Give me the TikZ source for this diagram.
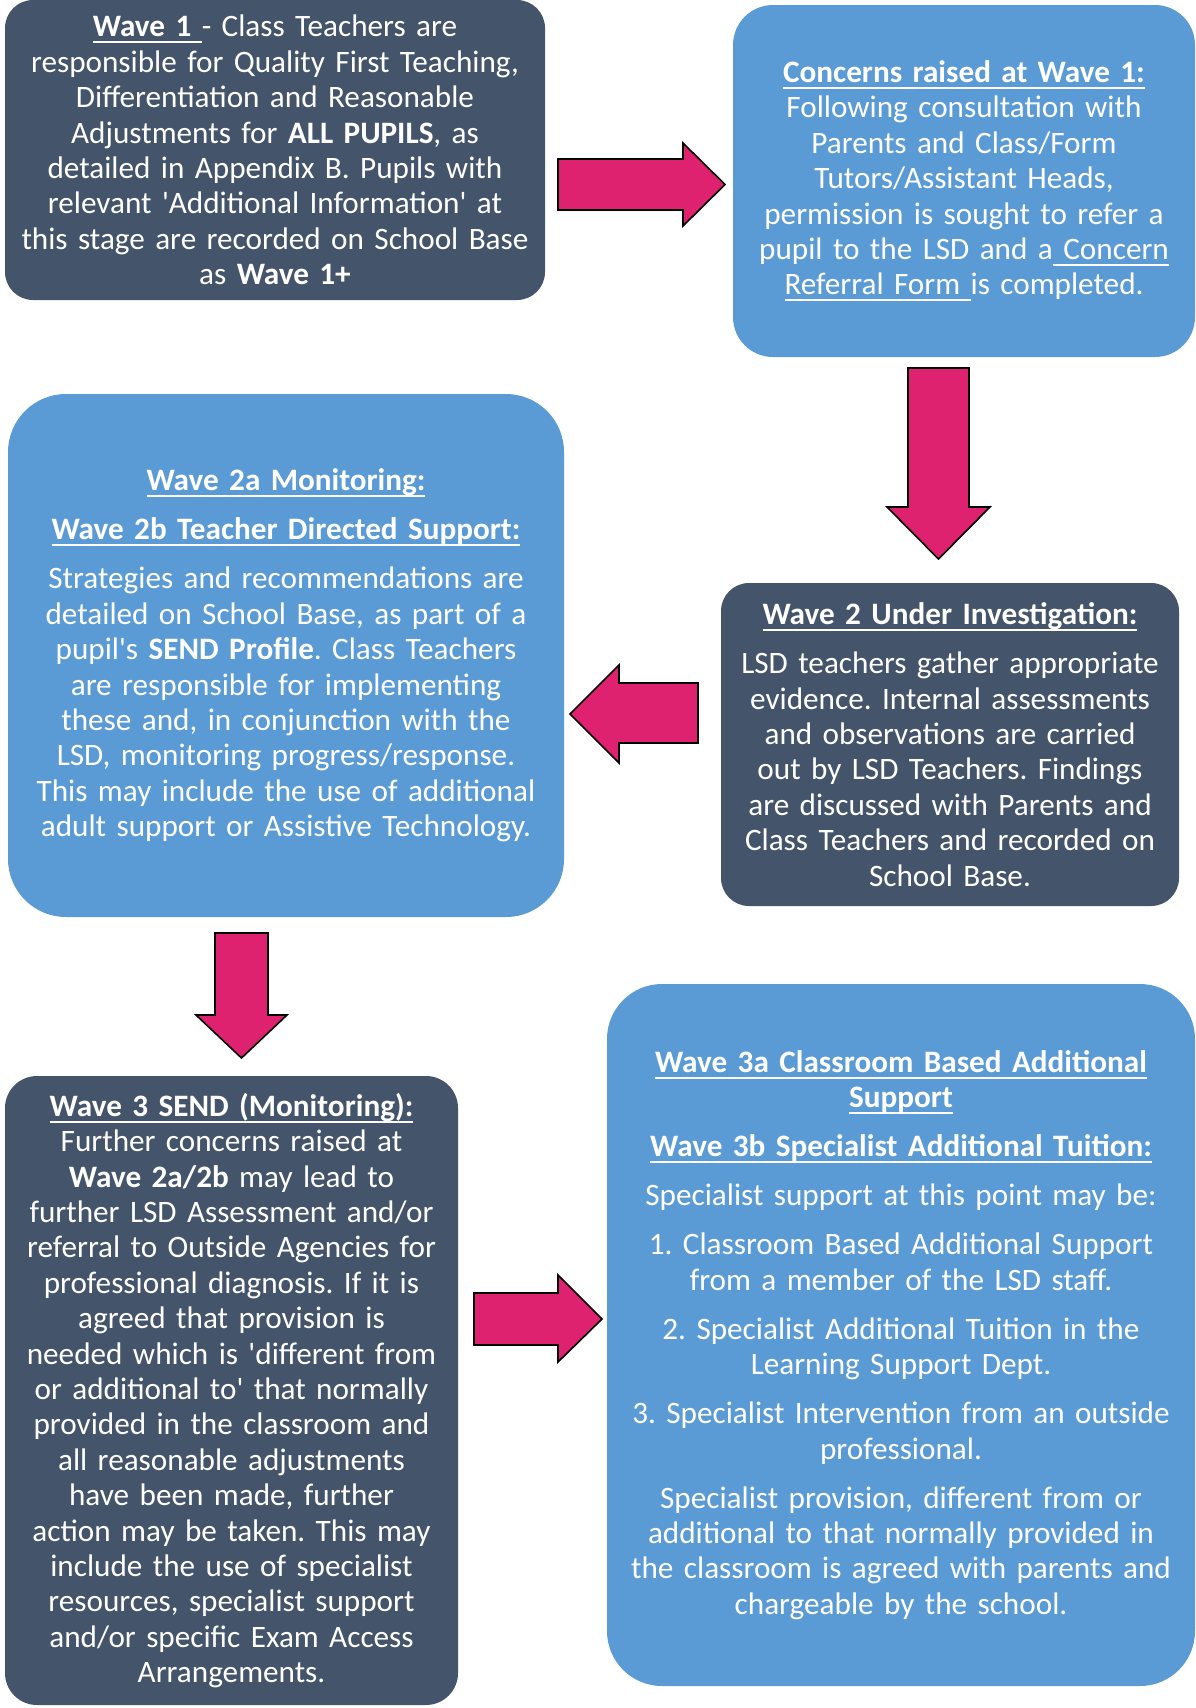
\documentclass[tikz,border=0pt]{standalone}
\usepackage{fontspec}
\setmainfont{Carlito}
\frenchspacing
\definecolor{darkfill}{HTML}{44546A}
\definecolor{lightfill}{HTML}{5B9BD5}
\definecolor{arrowfill}{HTML}{DF2270}
\newcommand\myul[1]{\leavevmode{\setbox0\hbox{#1}\rlap{\rule[-6.5pt]{\wd0}{2pt}}\box0}}
\newcommand\qq{\textquotesingle}
\tikzset{
  boxbase/.style={text=white, align=center, inner sep=0pt, draw=none,
    font=\fontsize{31.2}{35.4}\selectfont\frenchspacing},
  darkbox/.style={boxbase, fill=darkfill, rounded corners=#1},
  lightbox/.style={boxbase, fill=lightfill, rounded corners=#1},
  blockarrow/.style={fill=arrowfill, draw=black, line width=1.6pt, line join=miter}
}
\begin{document}
\begin{tikzpicture}[x=1pt,y=-1pt]
\useasboundingbox[fill=white] (0,0) rectangle (1195,1708);

\node[darkbox=28pt, minimum width=540pt, minimum height=300pt, text width=536pt] (w1) at (275,150) {%
\myul{\textbf{Wave 1}\ }- Class Teachers are\\
responsible for Quality First Teaching,\\
Differentiation and Reasonable\\
Adjustments for \textbf{ALL PUPILS}, as\\
detailed in Appendix B. Pupils with\\
relevant \qq Additional Information\qq\ at\\
this stage are recorded on School Base\\
as \textbf{Wave 1+}};

\node[lightbox=40pt, minimum width=462pt, minimum height=352pt, text width=458pt] (c1) at (964,181) {%
\myul{\textbf{Concerns raised at Wave 1:}}\\
Following consultation with\\
Parents and Class/Form\\
Tutors/Assistant Heads,\\
permission is sought to refer a\\
pupil to the LSD and a\myul{\ Concern}\\
\myul{Referral Form\ }is completed.};

\node[darkbox=28pt, minimum width=458pt, minimum height=323pt, text width=454pt] (w2) at (950,744.5) {%
\myul{\textbf{Wave 2 Under Investigation:}}\\[13.6pt]
LSD teachers gather appropriate\\
evidence. Internal assessments\\
and observations are carried\\
out by LSD Teachers. Findings\\
are discussed with Parents and\\
Class Teachers and recorded on\\
School Base.};

\node[lightbox=58pt, minimum width=556pt, minimum height=523pt, text width=552pt] (w2a) at (286,655.5) {%
\myul{\textbf{Wave 2a Monitoring:}}\\[13.6pt]
\myul{\textbf{Wave 2b Teacher Directed Support:}}\\[13.6pt]
Strategies and recommendations are\\
detailed on School Base, as part of a\\
pupil\qq s \textbf{SEND Profile}. Class Teachers\\
are responsible for implementing\\
these and, in conjunction with the\\
LSD, monitoring progress/response.\\
This may include the use of additional\\
adult support or Assistive Technology.};

\node[darkbox=32pt, minimum width=453pt, minimum height=629pt, text width=449pt] (w3) at (231.5,1390.5) {%
\myul{\textbf{Wave 3 SEND (Monitoring):}}\\
Further concerns raised at\\
\textbf{Wave 2a/2b} may lead to\\
further LSD Assessment and/or\\
referral to Outside Agencies for\\
professional diagnosis. If it is\\
agreed that provision is\\
needed which is \qq different from\\
or additional to\qq\ that normally\\
provided in the classroom and\\
all reasonable adjustments\\
have been made, further\\
action may be taken. This may\\
include the use of specialist\\
resources, specialist support\\
and/or specific Exam Access\\
Arrangements.};

\node[lightbox=55pt, minimum width=588pt, minimum height=702pt, text width=584pt] (w3a) at (901,1335) {%
\myul{\textbf{Wave 3a Classroom Based Additional}}\\
\myul{\textbf{Support}}\\[13.6pt]
\myul{\textbf{Wave 3b Specialist Additional Tuition:}}\\[13.6pt]
Specialist support at this point may be:\\[13.6pt]
1. Classroom Based Additional Support\\
from a member of the LSD staff.\\[13.6pt]
2. Specialist Additional Tuition in the\\
Learning Support Dept.\\[13.6pt]
3. Specialist Intervention from an outside\\
professional.\\[13.6pt]
Specialist provision, different from or\\
additional to that normally provided in\\
the classroom is agreed with parents and\\
chargeable by the school.};

% block arrows between the boxes
\filldraw[blockarrow] (558,159) -- (683,159) -- (683,143) -- (725,184.5) -- (683,226) -- (683,210) -- (558,210) -- cycle;
\filldraw[blockarrow] (908,368) -- (969,368) -- (969,507) -- (990,507) -- (938.5,559) -- (887,507) -- (908,507) -- cycle;
\filldraw[blockarrow] (698,683) -- (619,683) -- (619,665) -- (570,714) -- (619,763) -- (619,743) -- (698,743) -- cycle;
\filldraw[blockarrow] (215,933) -- (268,933) -- (268,1015) -- (287,1015) -- (241.5,1058) -- (196,1015) -- (215,1015) -- cycle;
\filldraw[blockarrow] (474,1293) -- (558,1293) -- (558,1275) -- (602,1319) -- (558,1362) -- (558,1345) -- (474,1345) -- cycle;
\end{tikzpicture}
\end{document}
